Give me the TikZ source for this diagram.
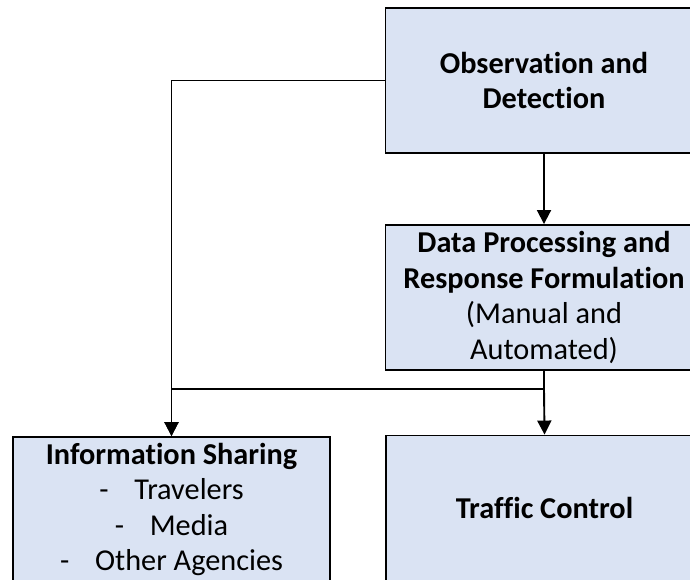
\documentclass[tikz,border=0pt]{standalone}
\usepackage{fontspec}
\setmainfont[Ligatures=NoCommon]{Carlito}
\usepackage{tikz}
\usetikzlibrary{shapes,arrows.meta}

\begin{document}
\begin{tikzpicture}[x=1pt,y=-1pt,
  box/.style={draw, line width=1.9pt, fill=boxblue, rectangle, align=center, minimum width=317pt, minimum height=145pt, font=\fontsize{30.3}{35.5}\selectfont},
  link/.style={line width=1.9pt, -{Triangle[length=14pt,width=14pt]}}
  ]
  \definecolor{boxblue}{RGB}{218,227,243}
  \useasboundingbox (0,0) rectangle (690,580);
  \clip (0,0) rectangle (690,580);

  \node[box] (obs) at (544,80.5) {\textbf{Observation and}\\\textbf{Detection}};
  \node[box] (proc) at (544,297.5) {\textbf{Data Processing and}\\\textbf{Response Formulation}\\(Manual and\\Automated)};
  \node[box] (info) at (171.5,509.5) {\textbf{Information Sharing}\\-\hspace{0.85em}Travelers\\-\hspace{0.85em}Media\\-\hspace{0.85em}Other Agencies};
  \node[box] (ctrl) at (544.5,508) {\textbf{Traffic Control}};

  \coordinate (split) at (544,389);

  \draw[link] (obs.west) -| (info.north);
  \draw[link] (obs.south) -- (proc.north);
  \draw[link] (proc.south) -- (split) -| (info.north);
  \draw[link] (split) -- (ctrl.north);

\end{tikzpicture}
\end{document}
